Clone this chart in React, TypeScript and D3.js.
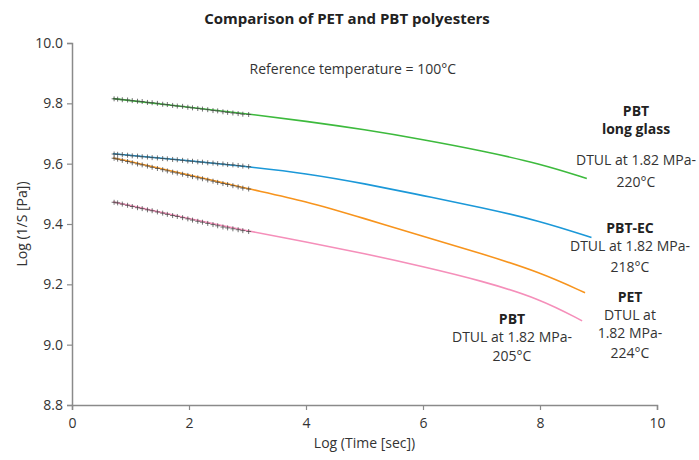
import React, { useEffect, useRef } from 'react';
import * as d3 from 'd3';

// marker times (log sec) shared by all series
const markerX = [0.72, 0.78, 0.86, 0.95, 1.03, 1.12, 1.2, 1.29, 1.37, 1.46, 1.55, 1.63, 1.72, 1.8,
  1.89, 1.98, 2.06, 2.15, 2.23, 2.32, 2.41, 2.49, 2.58, 2.66, 2.75, 2.84, 2.92, 3.02];

const greenMarks = [9.815, 9.814, 9.812, 9.811, 9.809, 9.807, 9.806, 9.803, 9.802, 9.8, 9.797, 9.796, 9.793, 9.791,
  9.79, 9.787, 9.785, 9.783, 9.781, 9.779, 9.776, 9.775, 9.772, 9.77, 9.768, 9.766, 9.764, 9.763];
const blueMarks = [9.632, 9.631, 9.63, 9.628, 9.626, 9.625, 9.623, 9.622, 9.62, 9.619, 9.617, 9.616, 9.614, 9.613,
  9.611, 9.609, 9.608, 9.606, 9.605, 9.603, 9.602, 9.6, 9.599, 9.597, 9.596, 9.594, 9.592, 9.59];
const orangeMarks = [9.618, 9.615, 9.611, 9.607, 9.603, 9.599, 9.596, 9.592, 9.588, 9.584, 9.58, 9.576, 9.572, 9.569,
  9.565, 9.561, 9.557, 9.553, 9.55, 9.546, 9.542, 9.538, 9.534, 9.531, 9.527, 9.523, 9.519, 9.516];
const pinkMarks = [9.472, 9.47, 9.466, 9.462, 9.458, 9.454, 9.451, 9.447, 9.444, 9.44, 9.436, 9.432, 9.428, 9.425,
  9.421, 9.417, 9.413, 9.409, 9.406, 9.402, 9.398, 9.394, 9.39, 9.387, 9.384, 9.381, 9.378, 9.375];

// fitted curves
const greenX = [0.7, 1, 2, 3, 4, 5, 6, 7, 8, 8.8];
const greenY = [9.816, 9.809, 9.787, 9.765, 9.741, 9.713, 9.68, 9.643, 9.6, 9.551];
const blueX = [0.7, 1, 2, 3, 4, 5, 6, 7, 8, 8.88];
const blueY = [9.633, 9.627, 9.61, 9.59, 9.568, 9.534, 9.494, 9.455, 9.41, 9.355];
const orangeX = [0.7, 1, 2, 3, 4, 5, 6, 7, 8, 8.77];
const orangeY = [9.619, 9.607, 9.563, 9.517, 9.476, 9.418, 9.359, 9.302, 9.24, 9.172];
const pinkX = [0.7, 1, 2, 3, 4, 5, 6, 7, 8, 8.72];
const pinkY = [9.473, 9.461, 9.418, 9.377, 9.341, 9.302, 9.259, 9.212, 9.152, 9.079];

const xTicks = [0, 2, 4, 6, 8, 10];
const yTicks = [8.8, 9.0, 9.2, 9.4, 9.6, 9.8, 10.0];

const FONT = "'Open Sans', 'DejaVu Sans', sans-serif";
const TXT = '#333';

const App = () => {
  const ref = useRef<SVGSVGElement>(null);

  useEffect(() => {
    document.body.style.margin = '0';
    const svg = d3.select(ref.current);
    svg.selectAll('*').remove();

    const width = 699, height = 460;
    const margin = { top: 43, right: 42, bottom: 55, left: 72 };

    const x = d3.scaleLinear().domain([0, 10]).range([margin.left, width - margin.right]);
    const y = d3.scaleLinear().domain([8.8, 10]).range([height - margin.bottom, margin.top]);

    // axes
    const xAxis = svg.append('g')
      .attr('transform', 'translate(0,' + y(8.8) + ')')
      .call(d3.axisBottom(x).tickValues(xTicks).tickSize(5).tickFormat(d3.format('d')));
    const yAxis = svg.append('g')
      .attr('transform', 'translate(' + x(0) + ',0)')
      .call(d3.axisLeft(y).tickValues(yTicks).tickSize(5).tickFormat(d3.format('.1f')));
    [xAxis, yAxis].forEach(a => {
      a.select('.domain').attr('stroke', '#8a8a8a').attr('stroke-width', 1.5);
      a.selectAll('.tick line').attr('stroke', '#8a8a8a').attr('stroke-width', 1.2);
      a.selectAll('.tick text').attr('fill', TXT).style('font-family', FONT).style('font-size', '14px');
    });
    xAxis.selectAll('.tick text').attr('dy', '1.05em');
    yAxis.selectAll('.tick text').attr('x', -9);

    const line = d3.line<[number, number]>()
      .x(d => x(d[0])).y(d => y(d[1]))
      .curve(d3.curveBasis);

    const series = [
      { xs: greenX, ys: greenY, marks: greenMarks, color: '#3dba3d' },
      { xs: blueX, ys: blueY, marks: blueMarks, color: '#1b98d8' },
      { xs: orangeX, ys: orangeY, marks: orangeMarks, color: '#f7941d' },
      { xs: pinkX, ys: pinkY, marks: pinkMarks, color: '#f58fba' },
    ];

    series.forEach(s => {
      svg.append('path')
        .datum(s.xs.map((v, i) => [v, s.ys[i]] as [number, number]))
        .attr('d', line)
        .attr('fill', 'none')
        .attr('stroke', s.color)
        .attr('stroke-width', 1.6);
      svg.append('g')
        .selectAll('path')
        .data(s.marks)
        .enter()
        .append('path')
        .attr('transform', (d, i) => 'translate(' + x(markerX[i]) + ',' + y(d) + ')')
        .attr('d', 'M-2.5,0H2.5M0,-2.5V2.5')
        .attr('stroke', '#444')
        .attr('stroke-opacity', 0.75)
        .attr('stroke-width', 1);
    });

    // titles
    svg.append('text').attr('x', 347).attr('y', 24).attr('text-anchor', 'middle')
      .style('font-family', FONT).style('font-size', '15px').style('font-weight', 'bold')
      .attr('fill', '#222').text('Comparison of PET and PBT polyesters');
    svg.append('text').attr('x', x(5)).attr('y', 448).attr('text-anchor', 'middle')
      .style('font-family', FONT).style('font-size', '14px').attr('fill', TXT)
      .text('Log (Time [sec])');
    svg.append('text').attr('transform', 'translate(27,' + y(9.4) + ') rotate(-90)')
      .attr('text-anchor', 'middle')
      .style('font-family', FONT).style('font-size', '14px').attr('fill', TXT)
      .text('Log (1/S [Pa])');
    svg.append('text').attr('x', x(4.8)).attr('y', 74).attr('text-anchor', 'middle')
      .style('font-family', FONT).style('font-size', '14px').attr('fill', TXT)
      .text('Reference temperature = 100°C');

    // annotations
    const notes = [
      { cx: 636, lines: [['PBT', 1, 116], ['long glass', 1, 134], ['DTUL at 1.82 MPa-', 0, 165], ['220°C', 0, 187]] },
      { cx: 630, lines: [['PBT-EC', 1, 233], ['DTUL at 1.82 MPa-', 0, 251], ['218°C', 0, 272]] },
      { cx: 630, lines: [['PET', 1, 302], ['DTUL at', 0, 320], ['1.82 MPa-', 0, 338], ['224°C', 0, 358]] },
      { cx: 512, lines: [['PBT', 1, 324], ['DTUL at 1.82 MPa-', 0, 342], ['205°C', 0, 361]] },
    ];
    notes.forEach(n => {
      n.lines.forEach(l => {
        svg.append('text').attr('x', n.cx).attr('y', l[2] as number).attr('text-anchor', 'middle')
          .style('font-family', FONT).style('font-size', '14px')
          .style('font-weight', l[1] ? 'bold' : 'normal')
          .attr('fill', l[1] ? '#222' : TXT)
          .text(l[0] as string);
      });
    });
  }, []);

  return <svg ref={ref} width={699} height={460} style={{ display: 'block', background: '#fff' }} />;
};

export default App;
